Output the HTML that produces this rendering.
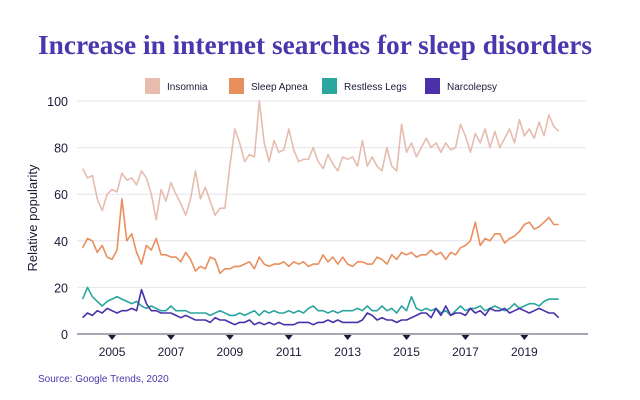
<!DOCTYPE html>
<html><head><meta charset="utf-8"><style>
body{margin:0;background:#fff;}
svg{display:block;font-family:"Liberation Sans",sans-serif;}
</style></head><body>
<svg id="chart" width="640" height="400" viewBox="0 0 640 400">
<text x="315" y="54" text-anchor="middle" font-family="Liberation Serif,serif" font-weight="bold" font-size="27" fill="#4b36ad" textLength="554" lengthAdjust="spacingAndGlyphs">Increase in internet searches for sleep disorders</text>
<g id="legend"></g>
<g id="grid"></g>
<g id="series"></g>
<text transform="translate(37,218) rotate(-90)" text-anchor="middle" font-size="13" fill="#1a1a3a">Relative popularity</text>
<text x="38" y="382" font-size="10" fill="#4b36ad">Source: Google Trends, 2020</text>
</svg>
<script>
const yTicks=[0,20,40,60,80,100];
const xTicks=[2005,2007,2009,2011,2013,2015,2017,2019];
const seriesNames=["Insomnia","Sleep Apnea","Restless Legs","Narcolepsy"];
const startYear=2004, stepYears=1/6;
const insomnia=[71,67,68,58,53,60, 62,61,69,66,67,64, 70,67,60,49,62,57, 65,60,56,51,58,70, 58,63,57,51,54,54, 72,88,82,74,77,76, 100,82,74,83,78,79, 88,79,74,75,75,80, 74,71,77,73,70,76, 75,76,72,83,72,76, 72,70,80,72,70,90, 78,82,76,80,84,80, 82,78,82,79,80,90, 85,78,86,82,88,80, 87,80,84,88,82,92, 85,88,84,91,85,94, 89,87];
const apnea=[37,41,40,35,38,33, 32,36,58,40,43,35, 30,38,36,41,34,34, 33,33,31,35,32,27, 29,28,33,32,26,28, 28,29,29,30,31,28, 33,30,29,30,30,31, 29,31,30,31,29,30, 30,34,31,33,30,33, 30,29,31,31,30,30, 33,32,30,34,32,35, 34,35,33,34,34,36, 34,35,32,35,34,37, 38,40,48,38,41,40, 43,43,39,41,42,44, 47,48,45,46,48,50, 47,47];
const restless=[15,20,16,14,12,14, 15,16,15,14,13,14, 12,11,12,11,10,10, 12,10,10,10,9,9, 9,9,8,9,10,9, 8,8,9,8,9,10, 8,10,9,10,9,9, 10,9,10,9,11,12, 10,10,9,10,9,10, 10,10,11,10,12,10, 10,12,10,11,9,12, 10,16,11,10,11,10, 11,9,10,8,10,12, 10,11,11,12,10,11, 12,11,10,11,13,11, 12,13,13,12,14,15, 15,15];
const narcolepsy=[7,9,8,10,9,11, 10,9,10,10,11,10, 19,13,10,10,9,9, 9,8,7,8,7,6, 6,6,5,7,6,6, 5,4,5,5,6,4, 5,4,5,4,5,4, 4,4,5,5,5,4, 5,5,6,5,6,5, 5,5,5,6,9,8, 6,7,6,6,5,6, 6,7,8,9,9,7, 11,8,12,8,9,9, 8,11,9,10,8,11, 10,10,11,9,10,11, 10,9,10,11,10,9, 9,7];

const NS="http://www.w3.org/2000/svg";
const colors=["#e6bcae","#e98f5e","#2ba69f","#4a31a9"];
const x=v=>82.6+(v-2004)*29.45;
const y=v=>334-v*2.33;
function mk(tag,attrs,parent){const e=document.createElementNS(NS,tag);for(const k in attrs)e.setAttribute(k,attrs[k]);parent.appendChild(e);return e;}
const grid=document.getElementById('grid');
yTicks.forEach(t=>{
  if(t>0){const l=mk('line',{x1:77,x2:586,y1:y(t),y2:y(t),stroke:'#e4e4ec','stroke-width':1},grid);
  
  }
  const tx=mk('text',{x:68,y:y(t)+5,'text-anchor':'end','font-size':12.5,fill:'#1a1a3a'},grid);
  tx.textContent=t;
  
  
});
const ax=mk('line',{x1:77,x2:588,y1:334,y2:334,stroke:'#8a8a9a','stroke-width':1.5},grid);


xTicks.forEach(t=>{
  const px=x(t);
  const tri=mk('path',{d:`M${px-4},335 L${px+4},335 L${px},340 Z`,fill:'#1a1a3a'},grid);
  
  
  const tx=mk('text',{x:px,y:356,'text-anchor':'middle','font-size':12,fill:'#1a1a3a'},grid);
  tx.textContent=t;
  
  
});
const sg=document.getElementById('series');
[insomnia,apnea,restless,narcolepsy].forEach((arr,i)=>{
  const pts=arr.map((v,k)=>x(startYear+k*stepYears).toFixed(1)+','+y(v).toFixed(1)).join(' ');
  const pl=mk('polyline',{points:pts,fill:'none',stroke:colors[i],'stroke-width':1.6,'stroke-linejoin':'round'},sg);
  
  
});
const lg=document.getElementById('legend');
const lx=[145,229,322,425];
seriesNames.forEach((n,i)=>{
  const r=mk('rect',{x:lx[i],y:78,width:15,height:16,fill:colors[i]},lg);
  
  
  const t=mk('text',{x:lx[i]+22,y:90,'font-size':10,fill:'#1a1a3a'},lg);
  t.textContent=n;
  
  
});
</script>
</body></html>
